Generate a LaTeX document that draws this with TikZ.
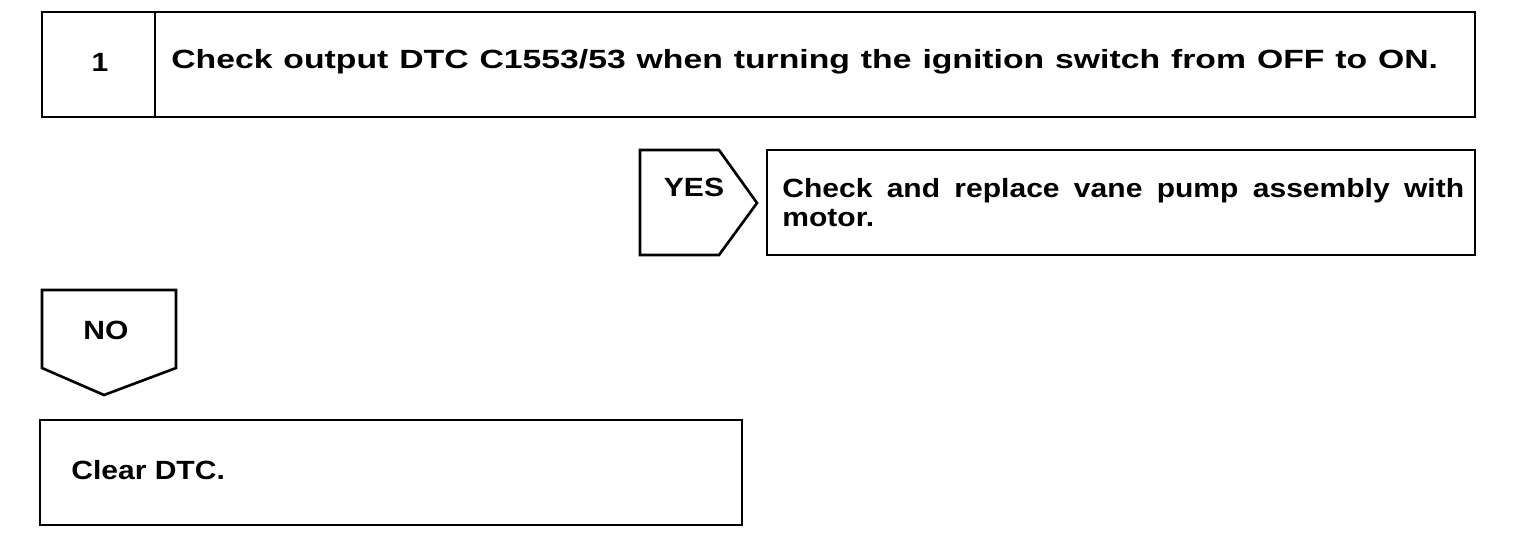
\documentclass[tikz,border=0pt]{standalone}
\usepackage{fontspec}
\setmainfont{Liberation Sans}[FakeStretch=1.14]
\newfontfamily\widefont{Liberation Sans}[FakeStretch=1.28]
\begin{document}
\begin{tikzpicture}[x=0.02cm, y=-0.02cm, line width=1.5pt,
  lbl/.style={font=\bfseries\fontsize{15}{16.5}\selectfont, inner sep=0pt},
  outline/.style={draw=black, line join=miter}]
  \useasboundingbox (0,0) rectangle (1520,544);

  % Step 1 header
  \draw[outline] (42,12) rectangle (1475,117);
  \draw[outline] (155,12) -- (155,117);
  \node[lbl] (num) at (100,62) {1};
  \node[lbl, anchor=west] (check) at (170,62)
    {\widefont\bfseries\makebox[25.34cm][s]{Check output DTC C1553/53 when turning the ignition switch from OFF to ON.}};

  % YES branch
  \draw[outline] (640,150) -- (719,150) -- (757,203) -- (719,255) -- (640,255) -- cycle;
  \node[lbl] (yes) at (694,187) {YES};
  \draw[outline] (767,150) rectangle (1475,255);
  \node[lbl, anchor=north west, text width=13.64cm, align=left] (replace) at (781,177)
    {\makebox[13.64cm][s]{\spaceskip=0pt\xspaceskip=0pt Check and replace vane pump assembly with}\\motor.};

  % NO branch
  \draw[outline] (42,290) -- (176,290) -- (176,368) -- (104,395) -- (42,368) -- cycle;
  \node[lbl] (no) at (106,330) {NO};

  % Clear DTC
  \draw[outline] (40,420) rectangle (742,525);
  \node[lbl, anchor=west] (clear) at (70,470) {Clear DTC.};
\end{tikzpicture}
\end{document}
